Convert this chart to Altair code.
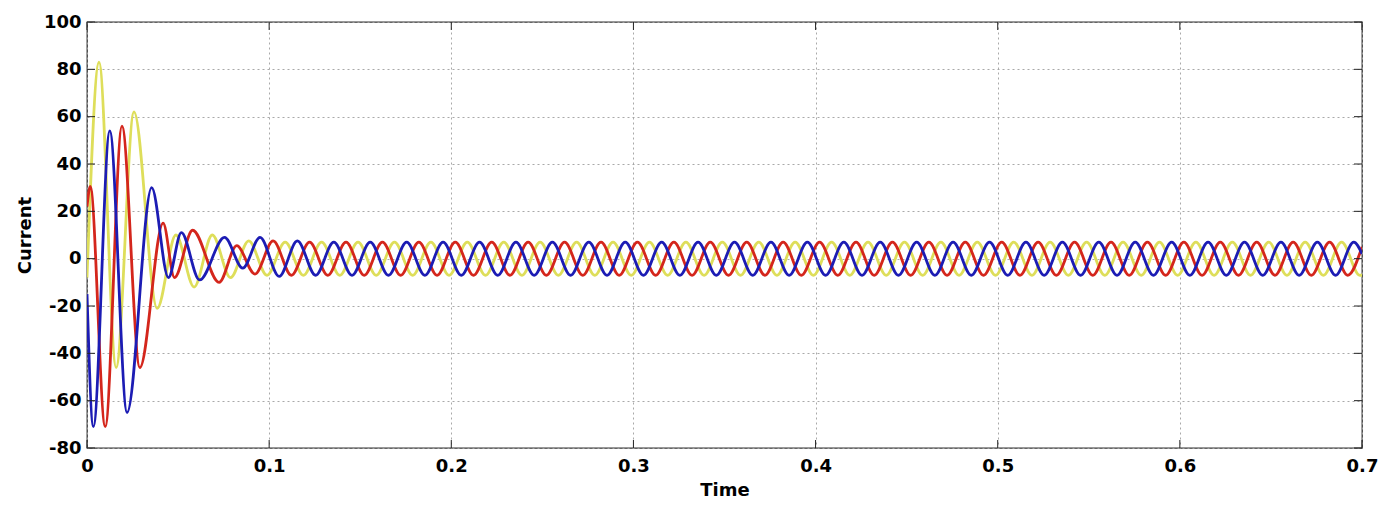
import altair as alt
import pandas as pd

# ---- data (extrema of each phase current) ----
blue_t = [0.0, 0.0035, 0.0125, 0.0220, 0.0355, 0.0447, 0.0518, 0.0618, 0.0755, 0.0855, 0.0950,
          0.1055, 0.1155, 0.1255, 0.1355, 0.1455, 0.1555, 0.1655, 0.1755, 0.1855, 0.1955,
          0.2055, 0.2155, 0.2255, 0.2355, 0.2455, 0.2555, 0.2655, 0.2755, 0.2855, 0.2955,
          0.3055, 0.3155, 0.3255, 0.3355, 0.3455, 0.3555, 0.3655, 0.3755, 0.3855, 0.3955,
          0.4055, 0.4155, 0.4255, 0.4355, 0.4455, 0.4555, 0.4655, 0.4755, 0.4855, 0.4955,
          0.5055, 0.5155, 0.5255, 0.5355, 0.5455, 0.5555, 0.5655, 0.5755, 0.5855, 0.5955,
          0.6055, 0.6155, 0.6255, 0.6355, 0.6455, 0.6555, 0.6655, 0.6755, 0.6855, 0.6955,
          0.7]
blue_v = [-15, -71, 54, -65, 30, -8, 11, -9, 9, -4, 9,
          -7.5, 7.5, -7, 7, -7, 7, -7, 7, -7, 7,
          -7, 7, -7, 7, -7, 7, -7, 7, -7, 7,
          -7, 7, -7, 7, -7, 7, -7, 7, -7, 7,
          -7, 7, -7, 7, -7, 7, -7, 7, -7, 7,
          -7, 7, -7, 7, -7, 7, -7, 7, -7, 7,
          -7, 7, -7, 7, -7, 7, -7, 7, -7, 7,
          2]

red_t = [0.0, 0.0018, 0.0100, 0.0192, 0.0290, 0.0418, 0.0480, 0.0580, 0.0725, 0.0822, 0.0922,
         0.1022, 0.1122, 0.1222, 0.1322, 0.1422, 0.1522, 0.1622, 0.1722, 0.1822, 0.1922,
         0.2022, 0.2122, 0.2222, 0.2322, 0.2422, 0.2522, 0.2622, 0.2722, 0.2822, 0.2922,
         0.3022, 0.3122, 0.3222, 0.3322, 0.3422, 0.3522, 0.3622, 0.3722, 0.3822, 0.3922,
         0.4022, 0.4122, 0.4222, 0.4322, 0.4422, 0.4522, 0.4622, 0.4722, 0.4822, 0.4922,
         0.5022, 0.5122, 0.5222, 0.5322, 0.5422, 0.5522, 0.5622, 0.5722, 0.5822, 0.5922,
         0.6022, 0.6122, 0.6222, 0.6322, 0.6422, 0.6522, 0.6622, 0.6722, 0.6822, 0.6922,
         0.7]
red_v = [22, 30.5, -71, 56, -46, 15, -8, 12, -10, 5.5, -6.5,
         7.5, -7, 7, -7, 7, -7, 7, -7, 7, -7,
         7, -7, 7, -7, 7, -7, 7, -7, 7, -7,
         7, -7, 7, -7, 7, -7, 7, -7, 7, -7,
         7, -7, 7, -7, 7, -7, 7, -7, 7, -7,
         7, -7, 7, -7, 7, -7, 7, -7, 7, -7,
         7, -7, 7, -7, 7, -7, 7, -7, 7, -7,
         5]

yellow_t = [0.0, 0.0066, 0.0160, 0.0258, 0.0385, 0.0488, 0.0588, 0.0688, 0.0788,
            0.0888, 0.0988, 0.1088, 0.1188, 0.1288, 0.1388, 0.1488, 0.1588, 0.1688, 0.1788,
            0.1888, 0.1988, 0.2088, 0.2188, 0.2288, 0.2388, 0.2488, 0.2588, 0.2688, 0.2788,
            0.2888, 0.2988, 0.3088, 0.3188, 0.3288, 0.3388, 0.3488, 0.3588, 0.3688, 0.3788,
            0.3888, 0.3988, 0.4088, 0.4188, 0.4288, 0.4388, 0.4488, 0.4588, 0.4688, 0.4788,
            0.4888, 0.4988, 0.5088, 0.5188, 0.5288, 0.5388, 0.5488, 0.5588, 0.5688, 0.5788,
            0.5888, 0.5988, 0.6088, 0.6188, 0.6288, 0.6388, 0.6488, 0.6588, 0.6688, 0.6788,
            0.6888, 0.6988, 0.7]
yellow_v = [-8, 83, -46, 62, -21, 10, -12, 10, -8,
            7.5, -7, 7, -7, 7, -7, 7, -7, 7, -7,
            7, -7, 7, -7, 7, -7, 7, -7, 7, -7,
            7, -7, 7, -7, 7, -7, 7, -7, 7, -7,
            7, -7, 7, -7, 7, -7, 7, -7, 7, -7,
            7, -7, 7, -7, 7, -7, 7, -7, 7, -7,
            7, -7, 7, -7, 7, -7, 7, -7, 7, -7,
            7, -7, -7]

x_ticks = [0, 0.1, 0.2, 0.3, 0.4, 0.5, 0.6, 0.7]
y_ticks = [-80, -60, -40, -20, 0, 20, 40, 60, 80, 100]

W, H = 1275, 426
FONT = "DejaVu Sans"

x_scale = alt.Scale(domain=[0, 0.7], nice=False, zero=False)
y_scale = alt.Scale(domain=[-80, 100], nice=False, zero=False)

x_axis = alt.Axis(values=x_ticks, title="Time", grid=True,
                  labelExpr="datum.value == 0 ? '0' : format(datum.value, '.1f')",
                  labelFlush=False, tickSize=0, domain=False,
                  labelPadding=9, titlePadding=6)
y_axis = alt.Axis(values=y_ticks, title="Current", grid=True,
                  labelExpr="'' + datum.value",
                  labelFlush=False, tickSize=0, domain=False,
                  labelPadding=6, titlePadding=9)

x_enc = alt.X("t:Q", scale=x_scale, axis=x_axis)
y_enc = alt.Y("v:Q", scale=y_scale, axis=y_axis)


def series(ts, vs, color):
    df = pd.DataFrame({"t": ts, "v": vs})
    return alt.Chart(df).mark_line(interpolate="monotone", strokeWidth=2.8,
                                   color=color, clip=True).encode(x=x_enc, y=y_enc)


yellow = series(yellow_t, yellow_v, "#dede5a")
red = series(red_t, red_v, "#d4261c")
blue = series(blue_t, blue_v, "#1c1cb4")

xt = pd.DataFrame({"t": x_ticks})
yt = pd.DataFrame({"v": y_ticks})
tick_style = dict(color="#222222", strokeWidth=1)
ticks_bottom = alt.Chart(xt).mark_rule(**tick_style).encode(
    x=x_enc, y=alt.value(H), y2=alt.value(H - 8))
ticks_top = alt.Chart(xt).mark_rule(**tick_style).encode(
    x=x_enc, y=alt.value(0), y2=alt.value(8))
ticks_left = alt.Chart(yt).mark_rule(**tick_style).encode(
    y=y_enc, x=alt.value(0), x2=alt.value(8))
ticks_right = alt.Chart(yt).mark_rule(**tick_style).encode(
    y=y_enc, x=alt.value(W), x2=alt.value(W - 8))

chart = alt.layer(
    yellow, red, blue, ticks_bottom, ticks_top, ticks_left, ticks_right
).properties(
    width=W, height=H,
    autosize=alt.AutoSizeParams(type="none"),
    padding={"left": 79, "top": 14, "right": 26, "bottom": 50},
    background="white",
).configure_view(
    stroke="#333333", strokeWidth=1.3
).configure_axis(
    labelFont=FONT, labelFontSize=18, labelFontWeight="bold", labelColor="black",
    titleFont=FONT, titleFontSize=18, titleFontWeight="bold", titleColor="black",
    gridColor="#a0a0a0", gridDash=[2, 3], gridWidth=1, gridOpacity=0.9,
)

chart.save("out.html", embed_options={"renderer": "svg", "actions": False})
